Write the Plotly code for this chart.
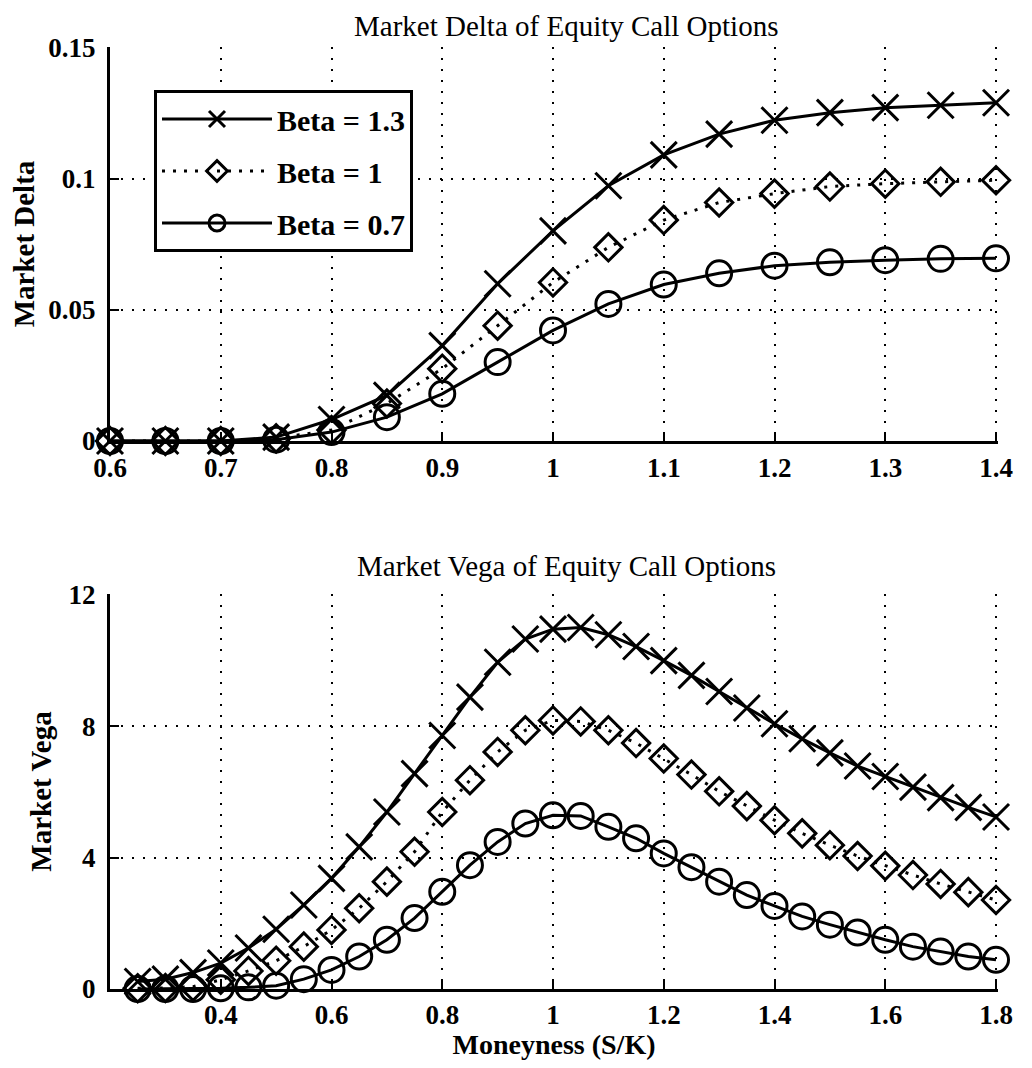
import plotly.graph_objects as go

# ---------------- data ----------------
moneyness_delta = [0.60, 0.65, 0.70, 0.75, 0.80, 0.85, 0.90, 0.95, 1.00, 1.05,
                   1.10, 1.15, 1.20, 1.25, 1.30, 1.35, 1.40]
delta_beta13 = [0.0, 0.0, 0.0, 0.0015, 0.0082, 0.0174, 0.0364, 0.0600, 0.0802, 0.0974,
                0.1092, 0.1171, 0.1224, 0.1253, 0.1272, 0.1281, 0.1291]
delta_beta10 = [0.0, 0.0, 0.0, 0.0010, 0.0042, 0.0143, 0.0276, 0.0440, 0.0605, 0.0739,
                0.0843, 0.0910, 0.0944, 0.0971, 0.0982, 0.0989, 0.0995]
delta_beta07 = [0.0, 0.0, 0.0, 0.0005, 0.0034, 0.0091, 0.0180, 0.0301, 0.0422, 0.0523,
                0.0597, 0.0640, 0.0669, 0.0682, 0.0690, 0.0695, 0.0697]

moneyness_vega = [0.25, 0.30, 0.35, 0.40, 0.45, 0.50, 0.55, 0.60, 0.65, 0.70,
                  0.75, 0.80, 0.85, 0.90, 0.95, 1.00, 1.05, 1.10, 1.15, 1.20,
                  1.25, 1.30, 1.35, 1.40, 1.45, 1.50, 1.55, 1.60, 1.65, 1.70,
                  1.75, 1.80]
vega_beta13 = [0.23, 0.30, 0.50, 0.79, 1.25, 1.82, 2.56, 3.37, 4.33, 5.39,
               6.56, 7.72, 8.89, 9.95, 10.66, 10.96, 11.01, 10.79, 10.43, 10.00,
               9.55, 9.06, 8.56, 8.08, 7.62, 7.19, 6.79, 6.47, 6.15, 5.83,
               5.53, 5.24]
vega_beta10 = [0.02, 0.03, 0.07, 0.28, 0.55, 0.86, 1.29, 1.80, 2.46, 3.27,
               4.18, 5.39, 6.36, 7.22, 7.88, 8.18, 8.15, 7.88, 7.49, 7.02,
               6.53, 6.02, 5.57, 5.14, 4.74, 4.38, 4.05, 3.75, 3.47, 3.20,
               2.95, 2.71]
vega_beta07 = [0.0, 0.0, 0.0, 0.02, 0.05, 0.10, 0.30, 0.58, 0.99, 1.50,
               2.16, 2.96, 3.77, 4.48, 5.04, 5.29, 5.27, 4.94, 4.59, 4.13,
               3.71, 3.27, 2.86, 2.53, 2.21, 1.96, 1.72, 1.50, 1.29, 1.14,
               0.99, 0.89]

series_names = ["Beta = 1.3", "Beta = 1", "Beta = 0.7"]

delta_xticks = [0.6, 0.7, 0.8, 0.9, 1.0, 1.1, 1.2, 1.3, 1.4]
delta_yticks = [0, 0.05, 0.1, 0.15]
delta_yticktext = ["0", "0.05", "0.1", "0.15"]
vega_xticks = [0.4, 0.6, 0.8, 1.0, 1.2, 1.4, 1.6, 1.8]
vega_xticktext = ["0.4", "0.6", "0.8", "1", "1.2", "1.4", "1.6", "1.8"]
vega_yticks = [0, 4, 8, 12]

top_title = "Market Delta of Equity Call Options"
bottom_title = "Market Vega of Equity Call Options"

# ---------------- styling ----------------
# page body has an 8px margin, so the figure is drawn 8px in from the corner
OFF = 8
W, H = 1032 - 2 * OFF, 1068 - 2 * OFF


def px(x):
    return (x - OFF) / W


def py(y):
    return 1 - (y - OFF) / H


SERIF = "Liberation Serif, Times New Roman, serif"
styles = [
    dict(symbol="x-thin-open", dash="solid"),
    dict(symbol="diamond-open", dash="3px,8px"),
    dict(symbol="circle-open", dash="solid"),
]
msizes = [26, 21, 25]

fig = go.Figure()

top_data = [delta_beta13, delta_beta10, delta_beta07]
bot_data = [vega_beta13, vega_beta10, vega_beta07]

for i, (name, ys) in enumerate(zip(series_names, top_data)):
    fig.add_trace(go.Scatter(
        x=moneyness_delta, y=ys, name=name, mode="lines+markers",
        line=dict(color="black", width=3, dash=styles[i]["dash"]),
        marker=dict(symbol=styles[i]["symbol"], size=msizes[i], color="black",
                    line=dict(color="black", width=3)),
        cliponaxis=False, legendgroup=name, showlegend=True,
        xaxis="x", yaxis="y"))

for i, (name, ys) in enumerate(zip(series_names, bot_data)):
    fig.add_trace(go.Scatter(
        x=moneyness_vega, y=ys, name=name, mode="lines+markers",
        line=dict(color="black", width=3, dash=styles[i]["dash"]),
        marker=dict(symbol=styles[i]["symbol"], size=msizes[i], color="black",
                    line=dict(color="black", width=3)),
        cliponaxis=False, legendgroup=name, showlegend=False,
        xaxis="x2", yaxis="y2"))

x_dom = [px(110), px(998)]
top_dom = [py(441), py(47)]
bot_dom = [py(989), py(594)]

tickfont = dict(family=SERIF, size=27, color="black", weight="bold")
titlefont = dict(family=SERIF, size=29, color="black", weight="bold")

common = dict(
    showline=True, linecolor="black", linewidth=3, mirror=False,
    ticks="inside", ticklen=9, tickwidth=2, tickcolor="black",
    showgrid=True, gridcolor="black", gridwidth=2, griddash="2px,9px",
    zeroline=False, tickfont=tickfont, automargin=False,
)

fig.update_layout(
    width=W, height=H,
    margin=dict(l=0, r=0, t=0, b=0),
    paper_bgcolor="white", plot_bgcolor="white",
    font=dict(family=SERIF, color="black"),
    xaxis=dict(domain=x_dom, anchor="y", range=[0.6, 1.4018],
               tickvals=delta_xticks, ticklabelstandoff=1, **common),
    yaxis=dict(domain=top_dom, anchor="x", range=[0, 0.15035],
               tickvals=delta_yticks, ticktext=delta_yticktext,
               ticklabelstandoff=6,
               title=dict(text="Market Delta", font=titlefont, standoff=23), **common),
    xaxis2=dict(domain=x_dom, anchor="y2", range=[0.2, 1.8036],
                tickvals=vega_xticks, ticktext=vega_xticktext,
                ticklabelstandoff=0,
                title=dict(text="Moneyness (S/K)",
                           font=dict(family=SERIF, size=28, color="black", weight="bold"),
                           standoff=0), **common),
    yaxis2=dict(domain=bot_dom, anchor="x2", range=[0, 12.03],
                tickvals=vega_yticks, ticklabelstandoff=6,
                title=dict(text="Market Vega", font=titlefont, standoff=9), **common),
    legend=dict(
        x=px(154), y=py(90), xanchor="left", yanchor="top",
        bordercolor="black", borderwidth=3, bgcolor="white",
        font=dict(family=SERIF, size=30, color="black", weight="bold"),
        itemwidth=110, traceorder="grouped", tracegroupgap=10,
        itemsizing="trace",
    ),
    annotations=[
        dict(text=top_title, x=px(566), y=1, xref="paper", yref="paper",
             xanchor="center", yanchor="top", showarrow=False,
             font=dict(family=SERIF, size=29, color="black")),
        dict(text=bottom_title, x=px(566), y=py(566), xref="paper", yref="paper",
             xanchor="center", yanchor="middle", showarrow=False,
             font=dict(family=SERIF, size=29, color="black")),
    ],
)

fig.write_html("out.html")
